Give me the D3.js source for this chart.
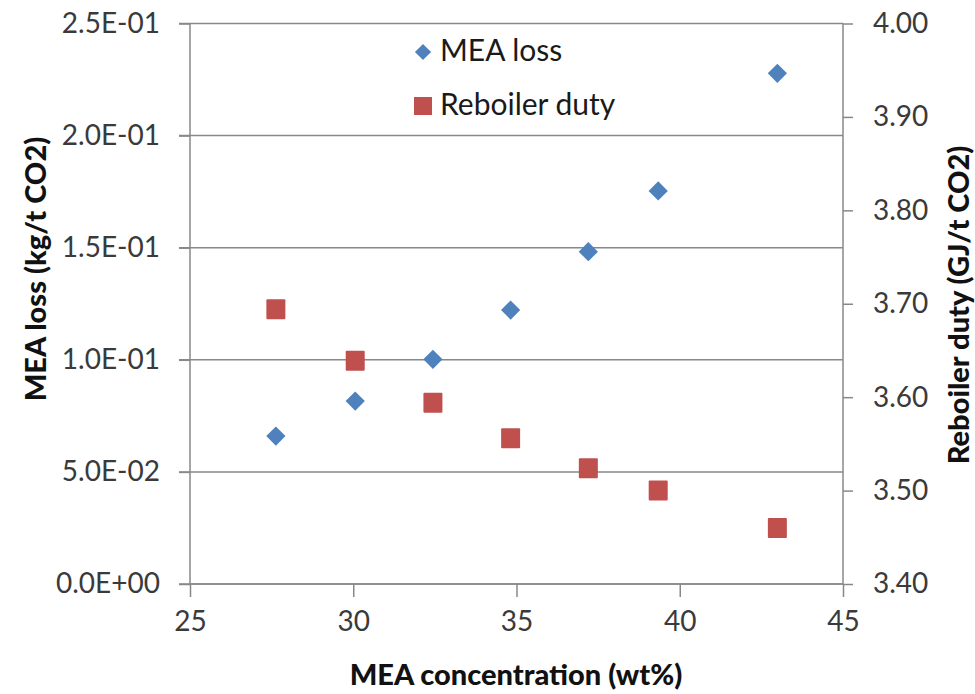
<!DOCTYPE html>
<html>
<head>
<meta charset="utf-8">
<script src="https://cdn.jsdelivr.net/npm/d3@7"></script>
<style>
  body { margin: 0; background: #fff; }
  svg text { font-family: Lato, "Open Sans", sans-serif; }
</style>
</head>
<body>
<div id="canvas"></div>
<script>
// --- data
var concentration = [27.63, 30.06, 32.44, 34.82, 37.20, 39.34, 42.99];
var meaLoss = [0.066, 0.0816, 0.1002, 0.1222, 0.1482, 0.1753, 0.2278];
var reboilerDuty = [3.694, 3.639, 3.594, 3.556, 3.524, 3.500, 3.460];

var xTicks = [25, 30, 35, 40, 45];
var leftTicks = [0, 0.05, 0.10, 0.15, 0.20, 0.25];
var leftTickLabels = ["0.0E+00", "5.0E-02", "1.0E-01", "1.5E-01", "2.0E-01", "2.5E-01"];
var rightTicks = [3.40, 3.50, 3.60, 3.70, 3.80, 3.90, 4.00];

var seriesNames = ["MEA loss", "Reboiler duty"];
var seriesColors = ["#4F81BD", "#C0504D"];

// --- layout
var W = 975, H = 694;
var M = {top: 23.5, right: 132, bottom: 110, left: 190};
var w = W - M.left - M.right,
    h = H - M.top - M.bottom;

var axisGrey = "#888888";
var labelColor = "#3a3a3a";

var svg = d3.select('#canvas')
  .append('svg')
  .attr('width', W)
  .attr('height', H);

var plot = svg.append('g')
  .attr('transform', 'translate(' + M.left + ',' + M.top + ')');

var x = d3.scaleLinear().domain([25, 45]).range([0, w]);
var yL = d3.scaleLinear().domain([0, 0.25]).range([h, 0]);
var yR = d3.scaleLinear().domain([3.40, 4.00]).range([h, 0]);

// --- gridlines (left axis)
plot.selectAll('.grid')
  .data(leftTicks)
  .enter().append('line')
  .attr('x1', -11)
  .attr('x2', w)
  .attr('y1', function(d) { return yL(d); })
  .attr('y2', function(d) { return yL(d); })
  .style('stroke', axisGrey)
  .style('stroke-width', 1.5);

// --- left axis
var leftAxis = d3.axisLeft(yL)
  .tickValues(leftTicks)
  .tickSize(11)
  .tickPadding(19)
  .tickFormat(function(d, i) { return leftTickLabels[i]; });

var gl = plot.append('g').call(leftAxis);

// --- right axis
var rightAxis = d3.axisRight(yR)
  .tickValues(rightTicks)
  .tickSize(10)
  .tickPadding(20)
  .tickFormat(d3.format('.2f'));

var gr = plot.append('g')
  .attr('transform', 'translate(' + w + ',0)')
  .call(rightAxis);

// --- bottom axis
var bottomAxis = d3.axisBottom(x)
  .tickValues(xTicks)
  .tickSize(13)
  .tickPadding(14)
  .tickFormat(d3.format('d'));

var gb = plot.append('g')
  .attr('transform', 'translate(0,' + h + ')')
  .call(bottomAxis);

[gl, gr, gb].forEach(function(g) {
  g.select('.domain').style('stroke', axisGrey).style('stroke-width', 1.5);
  g.selectAll('.tick line').style('stroke', axisGrey).style('stroke-width', 1.5);
  g.selectAll('.tick text')
    .style('font-size', '28px')
    .style('fill', labelColor)
    .style('font-family', 'Lato, "Open Sans", sans-serif');
});
gl.select('.domain').attr('d', 'M0,' + (h) + 'V0');
gr.select('.domain').attr('d', 'M0,' + (h) + 'V0');
gb.select('.domain').attr('d', 'M0,0H' + w);

// --- points
var diamond = d3.symbol().type(d3.symbolSquare).size(185);

plot.selectAll('.mea')
  .data(concentration)
  .enter().append('path')
  .attr('d', diamond)
  .attr('transform', function(d, i) {
    return 'translate(' + x(d) + ',' + yL(meaLoss[i]) + ') rotate(45)';
  })
  .style('fill', seriesColors[0]);

plot.selectAll('.reb')
  .data(concentration)
  .enter().append('rect')
  .attr('x', function(d) { return x(d) - 9.5; })
  .attr('y', function(d, i) { return yR(reboilerDuty[i]) - 10; })
  .attr('width', 19)
  .attr('height', 20)
  .attr('rx', 1)
  .style('fill', seriesColors[1]);

// --- legend
var legend = svg.append('g').attr('transform', 'translate(423,0)');

legend.append('path')
  .attr('d', d3.symbol().type(d3.symbolSquare).size(130))
  .attr('transform', 'translate(0,52) rotate(45)')
  .style('fill', seriesColors[0]);
legend.append('rect')
  .attr('x', -9).attr('y', 97)
  .attr('width', 18).attr('height', 18)
  .style('fill', seriesColors[1]);

legend.selectAll('.lt')
  .data(seriesNames)
  .enter().append('text')
  .attr('x', 17)
  .attr('y', function(d, i) { return 61 + i * 54; })
  .style('font-size', '30px')
  .style('fill', '#1a1a1a')
  .text(function(d) { return d; });

// --- axis titles
function title(t) {
  return t.style('font-size', '29px')
    .style('font-weight', 900)
    .style('fill', '#111')
    .attr('text-anchor', 'middle');
}

title(svg.append('text')
  .attr('x', 516)
  .attr('y', 685))
  .text('MEA concentration (wt%)');

title(svg.append('text')
  .attr('transform', 'translate(46,269) rotate(-90)'))
  .text('MEA loss (kg/t CO2)');

title(svg.append('text')
  .attr('transform', 'translate(969,305) rotate(-90)'))
  .text('Reboiler duty (GJ/t CO2)');
</script>
</body>
</html>
